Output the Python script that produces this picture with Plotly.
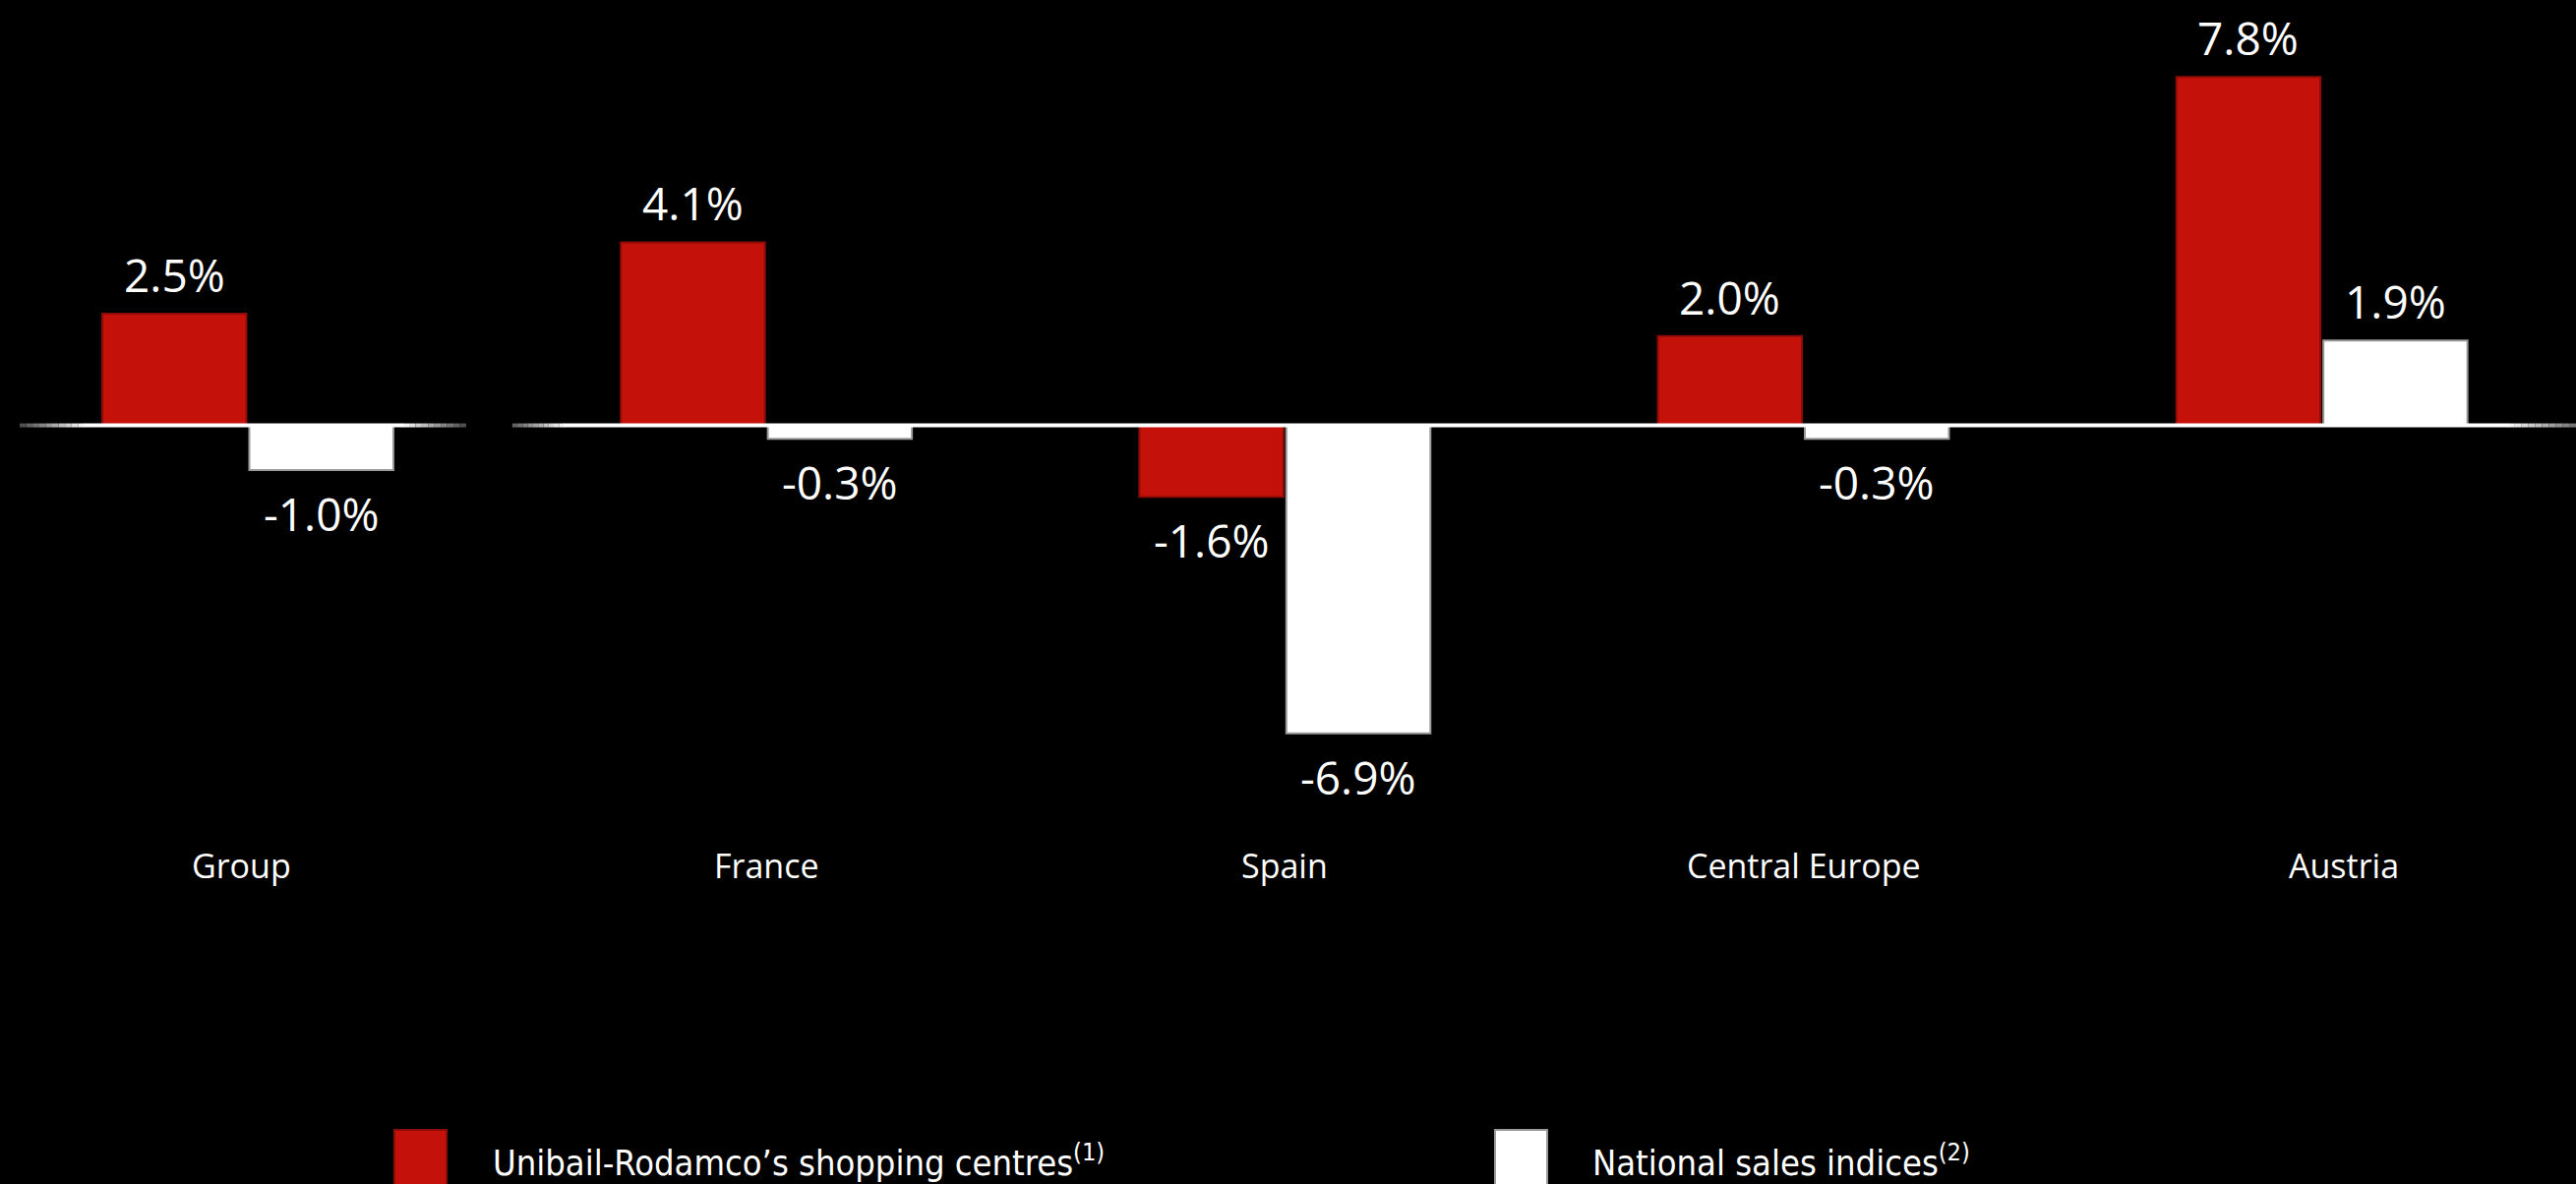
import plotly.graph_objects as go

# Like-for-like retail sales growth vs national indices
categories = ["Group", "France", "Spain", "Central Europe", "Austria"]
centre_growth = [2.5, 4.1, -1.6, 2.0, 7.8]
national_index = [-1.0, -0.3, -6.9, -0.3, 1.9]
series_names = [
    "Unibail-Rodamco’s shopping centres<sup>(1)</sup>",
    "National sales indices<sup>(2)</sup>",
]

W, H = 2619, 1204
RED = "#C4110A"
RED_EDGE = "#8E0C07"
WHITE = "#FFFFFF"
WHITE_EDGE = "#9A9A9A"
VALUE_FONT = dict(family="Open Sans, Noto Sans, sans-serif", size=46, color="white")
CAT_FONT = dict(family="Open Sans, Noto Sans, sans-serif", size=34, color="white")
LEG_FONT = dict(family="Liberation Sans Narrow, DejaVu Sans Condensed, Open Sans, sans-serif",
                size=36, color="white")

X_RANGE = [-0.478, 4.49]
Y_RANGE = [-16.99, 9.526]
px_per_unit = W / (X_RANGE[1] - X_RANGE[0])
BARGAP, GROUPGAP = 0.433, 0.02
half_slot = (1 - BARGAP) / 4  # centre offset of each bar within its group

fig = go.Figure()
fig.add_trace(go.Bar(
    x=categories, y=centre_growth, name=series_names[0],
    marker=dict(color=RED, line=dict(color=RED_EDGE, width=2)),
    hoverinfo="skip",
))
fig.add_trace(go.Bar(
    x=categories, y=national_index, name=series_names[1],
    marker=dict(color=WHITE, line=dict(color=WHITE_EDGE, width=2)),
    hoverinfo="skip",
))

annotations = []
shift_px = half_slot * px_per_unit
for vals, sign in ((centre_growth, -1), (national_index, 1)):
    for cat, v in zip(categories, vals):
        annotations.append(dict(
            x=cat, y=v, xref="x", yref="y", text=f"{v:.1f}%",
            showarrow=False, font=VALUE_FONT, xanchor="center", yanchor="middle",
            xshift=sign * shift_px, yshift=40 if v > 0 else -44,
        ))

# category names under the bars (slight nudges for the outer columns)
label_nudge = {"Group": -6, "Austria": 22}
for cat in categories:
    annotations.append(dict(
        x=cat, y=1 - 880 / H, xref="x", yref="paper", text=cat,
        showarrow=False, font=CAT_FONT, xanchor="center", yanchor="middle",
        xshift=label_nudge.get(cat, 0),
    ))

# zero line, split after the Group column, with faded ends
shapes = []


def fade_line(x0, x1, c0, c1, steps=10):
    for i in range(steps):
        t0 = x0 + (x1 - x0) * i / steps
        t1 = x0 + (x1 - x0) * (i + 1) / steps
        f = (i + 0.5) / steps
        g = int(c0 + (c1 - c0) * f)
        shapes.append(dict(type="line", xref="x", yref="y", x0=t0, x1=t1, y0=0, y1=0,
                           line=dict(color=f"rgb({g},{g},{g})", width=4), layer="above"))


def solid_line(x0, x1):
    shapes.append(dict(type="line", xref="x", yref="y", x0=x0, x1=x1, y0=0, y1=0,
                       line=dict(color="white", width=4), layer="above"))


fade_line(-0.440, -0.315, 70, 255)
solid_line(-0.316, 0.300)
fade_line(0.299, 0.421, 255, 70)
fade_line(0.510, 0.610, 90, 255)
solid_line(0.609, 4.36)
fade_line(4.359, 4.49, 255, 110)

# legend swatches and labels
legend_items = [
    (401, 454, 499, RED, RED_EDGE, series_names[0]),
    (1520, 1573, 1617, WHITE, WHITE_EDGE, series_names[1]),
]
for sx0, sx1, tx, fill, edge, label in legend_items:
    shapes.append(dict(type="rect", xref="paper", yref="paper",
                       x0=sx0 / W, x1=sx1 / W, y0=-0.02, y1=1 - 1149 / H,
                       fillcolor=fill, line=dict(color=edge, width=2)))
    annotations.append(dict(
        x=tx / W, y=1 - 1180 / H, xref="paper", yref="paper", text=label,
        showarrow=False, font=LEG_FONT, xanchor="left", yanchor="middle",
    ))

fig.update_layout(
    width=W, height=H,
    margin=dict(l=0, r=0, t=0, b=0),
    paper_bgcolor="black", plot_bgcolor="black",
    barmode="group", bargap=BARGAP, bargroupgap=GROUPGAP,
    showlegend=False,
    xaxis=dict(range=X_RANGE, visible=False, fixedrange=True),
    yaxis=dict(range=Y_RANGE, visible=False, fixedrange=True, zeroline=False),
    shapes=shapes, annotations=annotations,
)

fig.write_html("out.html")
